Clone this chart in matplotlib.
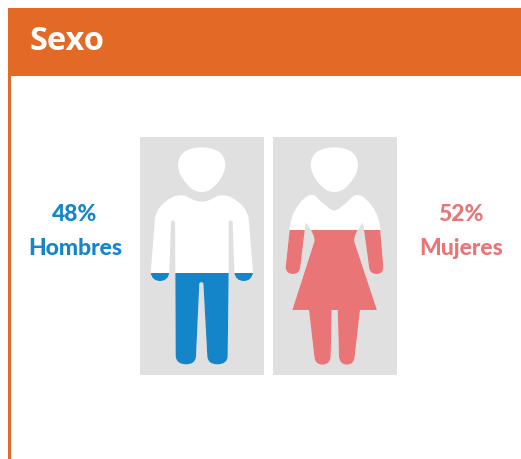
import matplotlib
matplotlib.use('Agg')
import matplotlib.pyplot as plt
from matplotlib.path import Path
from matplotlib.patches import PathPatch, Rectangle

title = 'Sexo'
labels = ['Hombres', 'Mujeres']
percents = [48, 52]
colors = ['#1485C9', '#E97577']
ORANGE = '#E36A26'
GRAY = '#E0E0E0'

M, L, Q = Path.MOVETO, Path.LINETO, Path.CURVE3


def build(offset_x, offset_y, segs):
    # segs are in the coordinates of the 3x crops, first point is the start
    verts, codes = [], []
    for i, s in enumerate(segs):
        pts = [(offset_x + s[j] / 3, offset_y + s[j + 1] / 3) for j in range(0, len(s), 2)]
        if i == 0:
            codes.append(M)
        elif len(pts) == 1:
            codes.append(L)
        else:
            codes += [Q, Q]
        verts += pts
    verts.append(verts[0])
    codes.append(Path.CLOSEPOLY)
    return Path(verts, codes)


def head(cx):
    return [(cx, 52),
            (cx + 30, 52, cx + 50, 64), (cx + 71, 78, cx + 71, 106),
            (cx + 71, 132, cx + 44, 163), (cx + 25, 186, cx, 186),
            (cx - 25, 186, cx - 44, 163), (cx - 71, 132, cx - 71, 106),
            (cx - 71, 78, cx - 50, 64), (cx - 30, 52, cx, 52)]


man_body = [
    (215, 215), (195, 215, 170, 199), (155, 192, 130, 200), (80, 225, 75, 265), (62, 428),
    (66, 453, 90, 453), (114, 453, 118, 428), (123, 275), (129, 268, 135, 275),
    (136, 428), (137, 680), (140, 703, 168, 703), (196, 703, 198, 680), (208, 460),
    (214, 453, 220, 460), (232, 680), (234, 703, 262, 703), (291, 703, 293, 680),
    (296, 428), (296, 275), (302, 268, 308, 275), (313, 428), (317, 453, 341, 453),
    (365, 453, 369, 428), (356, 265), (350, 225, 300, 200), (275, 192, 260, 199),
    (235, 215, 215, 215),
]
woman_body = [
    (208, 242), (195, 242, 150, 197), (135, 190, 118, 205), (80, 240, 75, 290),
    (62, 410), (62, 432, 84, 432), (104, 432, 106, 410), (122, 278), (152, 315, 148, 335),
    (82, 540), (132, 540), (148, 680), (150, 704, 172, 704), (195, 704, 197, 680),
    (200, 540), (218, 540), (222, 680), (224, 704, 246, 704), (267, 704, 269, 680),
    (285, 540), (336, 540), (268, 335), (264, 315, 294, 278), (312, 410),
    (314, 432, 334, 432), (356, 432, 355, 410), (345, 290), (340, 240, 300, 205),
    (283, 190, 266, 197), (221, 242, 208, 242),
]

fig = plt.figure(figsize=(5.21, 4.59), dpi=100)
ax = fig.add_axes([0, 0, 1, 1])
ax.set_xlim(0, 521)
ax.set_ylim(459, 0)
ax.axis('off')

# header band and left rule
ax.add_patch(Rectangle((8, 8), 513, 68, fc=ORANGE, ec='none'))
ax.add_patch(Rectangle((8, 76), 2.6, 383, fc=ORANGE, ec='none'))
ax.text(29.5, 50, title, color='white', fontsize=23.5, fontweight='bold',
        family='Open Sans', ha='left', va='baseline')

# grey panels with the two figures, coloured part clipped at the fill line
figures = [
    (130, 130, 140, man_body, head(215), 273),
    (265, 130, 272.7, woman_body, head(208), 230),
]
for i, (ox, oy, px, body, hd, fill_y) in enumerate(figures):
    ax.add_patch(Rectangle((px, 137), 124, 237.5, fc=GRAY, ec='none'))
    ax.add_patch(PathPatch(build(ox, oy, hd), fc='white', ec='none'))
    ax.add_patch(PathPatch(build(ox, oy, body), fc='white', ec='none'))
    part = PathPatch(build(ox, oy, body), fc=colors[i], ec='none')
    ax.add_patch(part)
    part.set_clip_path(Rectangle((px, fill_y), 124, 374.5 - fill_y, transform=ax.transData))

# side labels, no condensed bold installed so Lato at a smaller size
for x, pct, lab, col in zip([75, 461], percents, labels, colors):
    ax.text(x, 221, f'{pct}%', color=col, fontsize=16.5, fontweight='black',
            family='Lato', ha='center', va='baseline')
    ax.text(x, 255, lab, color=col, fontsize=16.5, fontweight='black',
            family='Lato', ha='center', va='baseline')

fig.savefig('out.png', dpi=100)
